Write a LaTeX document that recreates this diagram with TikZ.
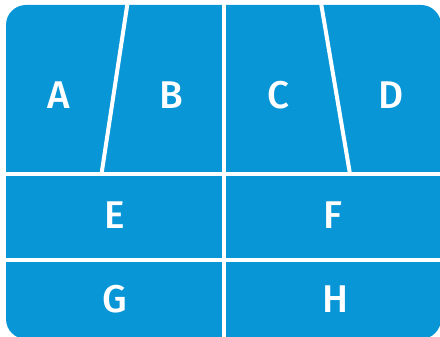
\documentclass[tikz,border=0pt]{standalone}
\usepackage{fontspec}
\setmainfont{Fira Sans}[BoldFont={Fira Sans Medium}]
\usepackage{tikz}
\usetikzlibrary{positioning,calc}
\definecolor{FigBlue}{HTML}{0896D7}

\begin{document}
\begin{tikzpicture}[
x=0.02cm, y=-0.02cm,
panel/.style={
fill=FigBlue,
rounded corners=20*0.02cm
},
divider/.style={
draw=white,
line width=4*0.02cm
},
cellname/.style={
text=white,
font=\fontsize{22}{22}\selectfont\bfseries,
inner sep=0pt
}
]
\useasboundingbox (0,0) rectangle (440,337);

% Panel with its divisions
\begin{scope}
\clip (0,0) rectangle (440,337);
\fill[panel] (6,5) rectangle (441,339);
\end{scope}
\coordinate (midtop) at (224,0);
\coordinate (midbot) at (224,337);
\coordinate (rowone) at (0,174);
\coordinate (rowtwo) at (0,260);
\draw[divider] (midtop) -- (midbot);
\draw[divider] (rowone) -- (rowone -| 440,0);
\draw[divider] (rowtwo) -- (rowtwo -| 440,0);
\draw[divider] (128,0) -- (101.5,174);
\draw[divider] (320.5,0) -- (350,174);

% Cell labels
\node[cellname] (a) at (59,95) {A};
\node[cellname] (b) at (171,95) {B};
\node[cellname] (c) at (278,95) {C};
\node[cellname] (d) at (391,95) {D};
\node[cellname] (e) at (115,215) {E};
\node[cellname] (f) at (333,215) {F};
\node[cellname] (g) at (115,299) {G};
\node[cellname] (h) at (335,299) {H};

\end{tikzpicture}
\end{document}
